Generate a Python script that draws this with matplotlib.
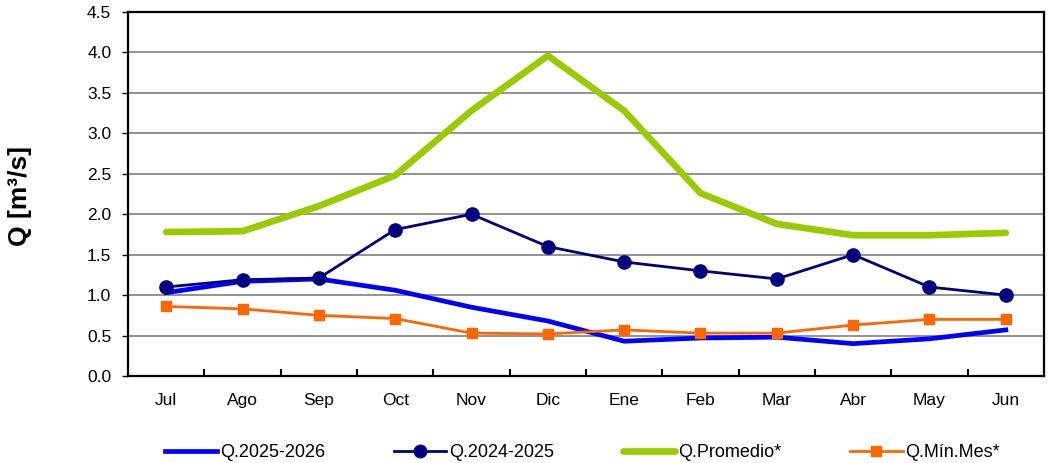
import matplotlib
matplotlib.use("Agg")
import matplotlib.pyplot as plt
import numpy as np
from matplotlib.ticker import MultipleLocator, FixedLocator, FormatStrFormatter

months = ["Jul", "Ago", "Sep", "Oct", "Nov", "Dic", "Ene", "Feb", "Mar", "Abr", "May", "Jun"]
q_2025_2026 = [1.03, 1.17, 1.20, 1.06, 0.85, 0.68, 0.43, 0.47, 0.48, 0.40, 0.46, 0.57]
q_2024_2025 = [1.10, 1.19, 1.21, 1.81, 2.00, 1.60, 1.41, 1.30, 1.20, 1.50, 1.10, 1.00]
q_promedio = [1.78, 1.79, 2.10, 2.48, 3.28, 3.96, 3.28, 2.26, 1.88, 1.74, 1.74, 1.77]
q_min_mes = [0.86, 0.83, 0.75, 0.71, 0.53, 0.52, 0.57, 0.53, 0.53, 0.63, 0.70, 0.70]

plt.rcParams['font.family'] = ['Liberation Sans', 'DejaVu Sans']

fig = plt.figure(figsize=(10.51, 4.63), dpi=100)
ax = fig.add_axes([128/1051, 1-376/463, (1044-128)/1051, (376-12)/463])

x = np.arange(len(months))
ax.plot(x, q_2025_2026, color="#0000FF", lw=3.4, label="Q.2025-2026", zorder=4)
ax.plot(x, q_2024_2025, color="#000080", lw=2.0, marker='o', ms=9.5, label="Q.2024-2025", zorder=5)
ax.plot(x, q_promedio, color="#99CC00", lw=4.8, label="Q.Promedio*", solid_capstyle='round', zorder=3)
ax.plot(x, q_min_mes, color="#FF6600", lw=2.0, marker='s', ms=7.5, label="Q.Mín.Mes*", zorder=4)

ax.set_xlim(-0.5, len(months) - 0.5)
ax.set_ylim(0, 4.5)
ax.yaxis.set_major_locator(MultipleLocator(0.5))
ax.yaxis.set_major_formatter(FormatStrFormatter('%.1f'))
ax.set_xticks(x)
ax.set_xticklabels(months)
ax.xaxis.set_minor_locator(FixedLocator(np.arange(0.5, len(months) - 0.5, 1)))
ax.tick_params(axis='x', which='major', length=0, labelsize=12.5, pad=12)
ax.tick_params(axis='x', which='minor', length=5, width=1.5, direction='in')
ax.tick_params(axis='y', which='major', length=4, width=1, direction='out', labelsize=12.5, pad=8)

ax.grid(axis='y', color='#808080', lw=1.2)
ax.set_axisbelow(True)
for s in ax.spines.values():
    s.set_linewidth(1.6)
    s.set_color('black')

fig.text(20/1051, 1-195.5/463, "Q [m³/s]", rotation=90, ha='center', va='center',
         fontsize=19, fontweight='bold')

leg = fig.legend(loc='center', bbox_to_anchor=(582.5/1051, 1-452.7/463), ncol=4, frameon=False,
                 fontsize=13, handlelength=2.9, columnspacing=3.8, handletextpad=0.17,
                 markerscale=0.95, borderpad=0)

fig.savefig("out.png", dpi=100)
